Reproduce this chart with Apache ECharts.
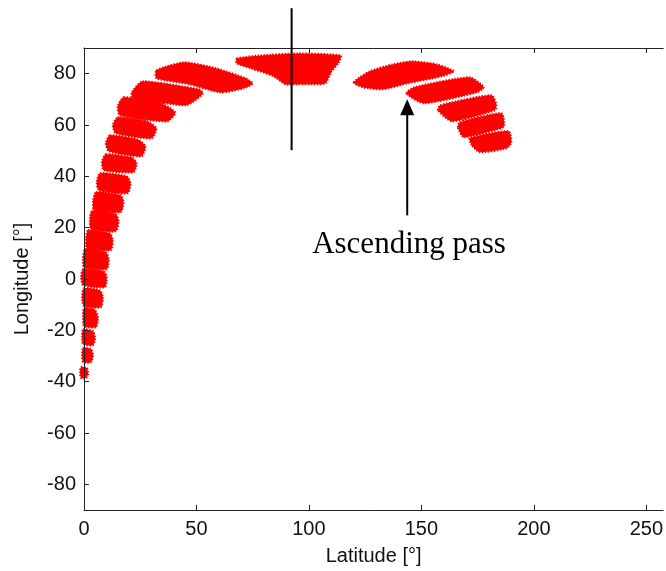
<!DOCTYPE html>
<html>
<head>
<meta charset="utf-8">
<script src="https://cdn.jsdelivr.net/npm/echarts@6/dist/echarts.min.js"></script>
<style>
  html, body { margin: 0; padding: 0; background: #fff; }
  #chart { width: 666px; height: 571px; }
</style>
</head>
<body>
<div id="chart"></div>
<script>
// tick labels
const latTicks = [0, 50, 100, 150, 200, 250];
const lonTicks = [-80, -60, -40, -20, 0, 20, 40, 60, 80];

// swath footprints, each one a polygon of [latitude, longitude]
const descendingArc = [
  [[-1.3, -34.3], [1.3, -34.7], [1.8, -37.1], [0.9, -38.6], [-1.3, -38.6], [-1.8, -36.3]],
  [[-0.4, -26.9], [3.1, -27.3], [4.0, -29.7], [3.1, -32.4], [-0.4, -32.4], [-0.9, -29.7]],
  [[-0.4, -19.6], [4.0, -20.3], [4.9, -23.1], [4.0, -25.8], [-0.4, -25.4], [-0.9, -22.3]],
  [[0, -11.4], [4.9, -12.1], [6.2, -15.3], [5.3, -18.8], [0, -18.4], [-0.4, -14.9]],
  [[0, -3.6], [7.1, -4.4], [8.4, -7.1], [7.5, -11.0], [0, -10.6], [-0.9, -7.1]],
  [[-0.4, 3.8], [8.8, 3.0], [10.1, 0.7], [9.3, -3.2], [-0.4, -2.4], [-1.3, 0.7]],
  [[0.4, 11.6], [9.7, 10.4], [11.0, 7.7], [10.1, 3.8], [0, 4.6], [-0.4, 8.1]],
  [[1.8, 19.0], [11.5, 17.8], [12.8, 15.1], [11.9, 11.2], [1.3, 12.0], [0.9, 15.5]],
  [[3.5, 26.4], [14.1, 25.2], [15.4, 22.5], [14.1, 18.6], [3.1, 19.4], [2.6, 22.9]],
  [[5.3, 33.8], [16.3, 32.6], [17.6, 29.9], [16.3, 26.0], [4.4, 26.8], [4.0, 30.3]],
  [[7.1, 41.2], [19.0, 40.0], [20.7, 37.3], [19.4, 33.4], [6.6, 34.6], [5.7, 37.7]],
  [[9.7, 48.6], [21.2, 47.4], [23.4, 45.1], [22.0, 41.6], [8.8, 42.4], [7.9, 45.5]],
  [[11.5, 56.0], [23.8, 54.4], [27.3, 51.7], [25.6, 47.8], [11.0, 49.8], [9.7, 52.9]],
  [[15.0, 63.0], [28.2, 61.4], [32.2, 58.7], [30.0, 54.8], [14.1, 56.8], [12.8, 59.9]],
  [[17.6, 70.8], [33.5, 68.8], [40.6, 64.9], [37.0, 61.4], [15.9, 63.8], [15.0, 67.3]],
  [[26.0, 77.0], [51.1, 73.9], [52.9, 72.3], [45.4, 67.7], [21.6, 70.8], [21.2, 72.7]],
  [[32.2, 81.3], [44.5, 84.4], [58.6, 82.1], [71.9, 78.2], [75.0, 76.2], [71.0, 74.3],
   [60.8, 72.7], [46.7, 75.9], [32.2, 78.2]]
];

const topBand = [
  [[67.9, 85.9], [78.5, 87.1], [95.2, 87.9], [114.2, 87.1], [113.3, 84.4], [109.8, 80.5],
   [107.1, 76.2], [95.2, 75.9], [89.5, 75.9], [84.2, 79.0], [74.1, 82.1], [67.9, 84.0]]
];

const ascendingArc = [
  [[119.9, 76.6], [127.0, 80.9], [137.1, 83.6], [145.9, 84.8], [157.0, 83.6], [164.5, 80.9],
   [159.2, 79.0], [143.7, 76.2], [132.7, 73.9], [123.9, 74.7]],
  [[143.3, 72.3], [146.8, 74.7], [171.5, 78.6], [177.7, 74.7], [174.6, 72.7], [151.2, 68.5]],
  [[157.4, 65.7], [158.3, 67.7], [181.2, 71.6], [183.4, 67.7], [182.5, 65.7], [163.6, 61.4]],
  [[166.2, 59.1], [167.1, 61.1], [185.6, 64.6], [186.9, 59.9], [185.6, 58.7], [168.9, 55.2]],
  [[172.4, 52.1], [171.5, 54.8], [188.7, 57.6], [190.0, 53.3], [187.8, 50.9], [175.9, 49.4]]
];

// annotations
const passLine = [[92.3, 50.2], [92.3, 105.5]];
const arrowLine = [[143.7, 24.8], [143.7, 70.0]];
const labelPos = [144.5, 13.4];
const labelText = 'Ascending pass';

const chart = echarts.init(document.getElementById('chart'));

const font = 'Liberation Sans';

function bandSeries(name, bands) {
  return {
    name: name,
    type: 'custom',
    clip: false,
    z: 2,
    data: bands.map(b => b[0]),
    renderItem: function (params, api) {
      const pts = bands[params.dataIndex].map(p => api.coord(p));
      return {
        type: 'polygon',
        shape: { points: pts, smooth: 0.2 },
        style: { fill: '#ff0000', stroke: '#ff0000', lineWidth: 2, lineDash: [1.5, 1.5] }
      };
    }
  };
}

const option = {
  backgroundColor: '#ffffff',
  animation: false,
  grid: { left: 84, top: 48, width: 584, height: 462 },
  xAxis: [
    {
      type: 'value',
      min: 0,
      max: 257.5,
      interval: 50,
      name: 'Latitude [°]',
      nameLocation: 'middle',
      nameGap: 36,
      nameTextStyle: { fontFamily: font, fontSize: 20, color: '#111' },
      axisLine: { show: true, onZero: false, lineStyle: { color: '#222', width: 1 } },
      axisTick: { inside: true, length: 5, customValues: latTicks, lineStyle: { color: '#222' } },
      axisLabel: { customValues: latTicks, fontFamily: font, fontSize: 20, color: '#111', margin: 9 },
      splitLine: { show: false },
      z: 5
    },
    {
      type: 'value',
      position: 'top',
      min: 0,
      max: 257.5,
      interval: 50,
      axisLine: { show: true, onZero: false, lineStyle: { color: '#222', width: 1 } },
      axisTick: { inside: true, length: 5, customValues: latTicks, lineStyle: { color: '#222' } },
      axisLabel: { show: false },
      splitLine: { show: false },
      z: 5
    }
  ],
  yAxis: {
    type: 'value',
    min: -90,
    max: 90,
    name: 'Longitude [°]',
    nameLocation: 'middle',
    nameGap: 52,
    nameTextStyle: { fontFamily: font, fontSize: 20, color: '#111' },
    axisLine: { show: true, onZero: false, lineStyle: { color: '#222', width: 1 } },
    axisTick: { inside: true, length: 5, customValues: lonTicks, lineStyle: { color: '#222' } },
    axisLabel: { customValues: lonTicks, fontFamily: font, fontSize: 20, color: '#111', margin: 8 },
    splitLine: { show: false },
    z: 5
  },
  series: [
    bandSeries('descending', descendingArc),
    bandSeries('top', topBand),
    bandSeries('ascending', ascendingArc),
    {
      name: 'annotations',
      type: 'custom',
      clip: false,
      z: 6,
      data: [labelPos],
      renderItem: function (params, api) {
        const a = api.coord(passLine[0]);
        const b = api.coord(passLine[1]);
        const s = api.coord(arrowLine[0]);
        const t = api.coord(arrowLine[1]);
        const l = api.coord(labelPos);
        return {
          type: 'group',
          children: [
            { type: 'line', shape: { x1: a[0], y1: a[1], x2: b[0], y2: b[1] },
              style: { stroke: '#000', lineWidth: 2 } },
            { type: 'line', shape: { x1: s[0], y1: s[1], x2: t[0], y2: t[1] + 12 },
              style: { stroke: '#000', lineWidth: 2 } },
            { type: 'polygon', shape: { points: [[t[0], t[1]], [t[0] - 7, t[1] + 16], [t[0] + 7, t[1] + 16]] },
              style: { fill: '#000' } },
            { type: 'text',
              style: { text: labelText, x: l[0], y: l[1], align: 'center', verticalAlign: 'middle',
                       font: '31px "Liberation Serif"', fill: '#000' } }
          ]
        };
      }
    }
  ]
};

chart.setOption(option);
</script>
</body>
</html>
